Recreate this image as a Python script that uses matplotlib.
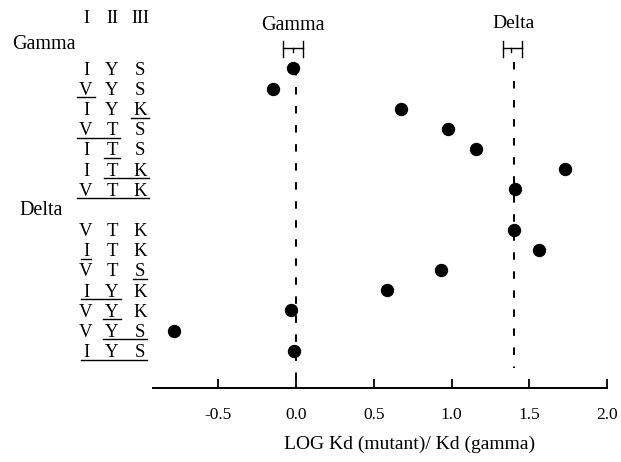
import numpy as np
import matplotlib.pyplot as plt
import matplotlib.transforms as mtransforms

plt.rcParams['font.family'] = ['Liberation Serif', 'DejaVu Serif']
plt.rcParams['axes.unicode_minus'] = False
plt.rcParams['lines.scale_dashes'] = False

# residues at sites I, II, III for each construct (gamma group, then delta group)
site_I = ['I', 'V', 'I', 'V', 'I', 'I', 'V',
          'V', 'I', 'V', 'I', 'V', 'V', 'I']
site_II = ['Y', 'Y', 'Y', 'T', 'T', 'T', 'T',
           'T', 'T', 'T', 'Y', 'Y', 'Y', 'Y']
site_III = ['S', 'S', 'K', 'S', 'S', 'K', 'K',
            'K', 'K', 'S', 'K', 'K', 'S', 'S']
# mutated sites (first, last column of underline), None = wild type
mutated = [None, (0, 0), (2, 2), (0, 1), (1, 1), (1, 2), (0, 2),
           None, (0, 0), (2, 2), (0, 1), (1, 1), (1, 2), (0, 2)]
log_kd = [-0.02, -0.15, 0.675, 0.975, 1.16, 1.73, 1.41,
          1.40, 1.56, 0.93, 0.585, -0.03, -0.785, -0.01]
rows = [0, 1, 2, 3, 4, 5, 6, 8, 9, 10, 11, 12, 13, 14]

gamma_ref = 0.0
delta_ref = 1.40
gamma_err = (-0.085, 0.047, -0.02)
delta_err = (1.332, 1.454, 1.385)

xticks = [-0.5, 0.0, 0.5, 1.0, 1.5, 2.0]

W, H = 621, 462
fig = plt.figure(figsize=(W / 100, H / 100), dpi=100)
ax = fig.add_axes([153 / W, (H - 388) / H, 454 / W, 388 / H])
ax.set_xlim(-0.92, 2.0)
ax.set_ylim(15.85, -3.39)

for s in ['left', 'right', 'top']:
    ax.spines[s].set_visible(False)
ax.spines['bottom'].set_linewidth(1.4)
ax.set_yticks([])
ax.set_xticks(xticks)
ax.set_xticklabels(['%.1f' % t for t in xticks])
ax.tick_params(axis='x', direction='in', length=6.5, width=1.3,
               labelsize=12.5, pad=14)
ax.set_xlabel('LOG Kd (mutant)/ Kd (gamma)', fontsize=14, labelpad=9,
              x=(410 - 153) / 454)

# reference lines
ax.plot([gamma_ref, gamma_ref], [0, 15.85], color='black', lw=1.4,
        ls=(0, (5.4, 8.3)), clip_on=False)
ax.plot([delta_ref, delta_ref], [-0.3, 14.84], color='black', lw=1.4,
        ls=(0, (5.4, 8.3)))

# error brackets for the two references
for lo, hi, mid in [gamma_err, delta_err]:
    ax.plot([lo, lo], [-1.36, -0.55], color='black', lw=1.0, clip_on=False)
    ax.plot([hi, hi], [-1.36, -0.55], color='black', lw=1.0, clip_on=False)
    ax.plot([lo, hi], [-1.0, -1.0], color='black', lw=1.0, clip_on=False)
    ax.plot([mid, mid], [-1.0, -0.82], color='black', lw=1.0, clip_on=False)
ax.text(gamma_err[2], -2.14, 'Gamma', ha='center', va='center', fontsize=14.5)
ax.text(delta_ref, -2.2, 'Delta', ha='center', va='center', fontsize=14)

ax.plot(log_kd, rows, 'o', color='black', ms=8.6, clip_on=False)

# residue table on the left
trans = mtransforms.blended_transform_factory(fig.transFigure, ax.transData)
col_x = [86 / W, 112 / W, 140 / W]
for cx, lab in zip(col_x, ['I', 'II', 'III']):
    ax.text(cx, -2.45, lab, transform=trans, ha='center', va='center',
            fontsize=13)
ax.text(12 / W, -1.16, 'Gamma', transform=trans, ha='left', va='center',
        fontsize=14.5)
ax.text(19 / W, 7.07, 'Delta', transform=trans, ha='left', va='center',
        fontsize=14.5)

letters = []
for r, a, b, c in zip(rows, site_I, site_II, site_III):
    row_txt = []
    for cx, ch in zip(col_x, [a, b, c]):
        t = ax.text(cx, r + 0.32, ch, transform=trans, ha='center',
                    va='baseline', fontsize=13.5)
        row_txt.append(t)
    letters.append(row_txt)

fig.canvas.draw()
renderer = fig.canvas.get_renderer()
for r, row_txt, m in zip(rows, letters, mutated):
    if m is None:
        continue
    x0 = row_txt[m[0]].get_window_extent(renderer).x0 - 2
    x1 = row_txt[m[1]].get_window_extent(renderer).x1 + 2
    ax.plot([x0 / W, x1 / W], [r + 0.44, r + 0.44], color='black', lw=1.0,
            transform=trans, clip_on=False)

fig.savefig('out.png', dpi=100)
